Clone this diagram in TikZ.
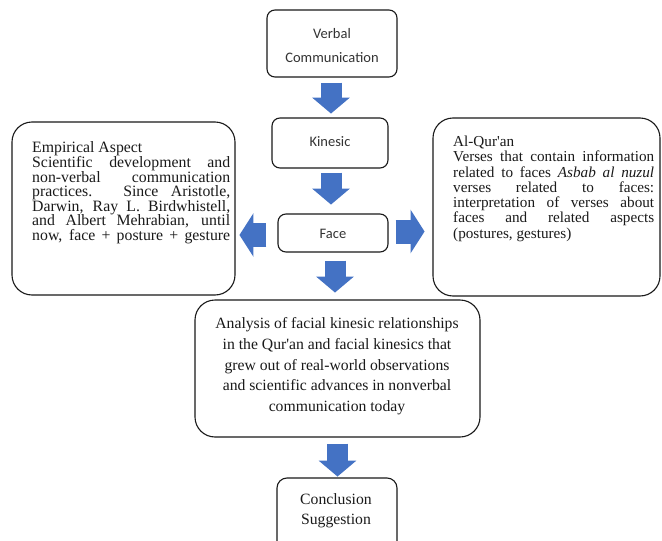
\documentclass[tikz,border=0pt]{standalone}
\usepackage{fontspec}
\setmainfont{Liberation Serif}
\newfontfamily\straightq{Liberation Serif}
\newfontfamily\calfont{Carlito}
\usetikzlibrary{arrows.meta,calc}
\definecolor{arrblue}{HTML}{4472C4}
\definecolor{boxline}{HTML}{1A1A1A}
\definecolor{sanstext}{HTML}{333333}
\definecolor{sertext}{HTML}{1A1A1A}
\newcommand{\sq}{{\straightq'}}
\tikzset{
  sbox/.style={draw=boxline, line width=1.1pt, rounded corners=8pt, inner sep=0pt},
  sbtext/.style={inner sep=0pt, align=center, text=sanstext, font=\calfont\fontsize{14.5}{24}\selectfont},
  bbox/.style={draw=boxline, line width=1.1pt, rounded corners=20pt, inner sep=0pt},
  stext/.style={inner sep=0pt, text=sertext, anchor=base west},
  varrow/.style={draw=arrblue, line width=21pt, -{Triangle[width=37pt,length=16pt,fill=arrblue,color=arrblue]}},
  harrow/.style={draw=arrblue, line width=24pt, -{Triangle[width=43pt,length=14pt,fill=arrblue,color=arrblue]}}
}
\begin{document}
\begin{tikzpicture}[x=1pt,y=-1pt]
\clip (0,0) rectangle (662,541);
\fill[white] (0,0) rectangle (662,541);
% column boxes
\node[sbox, minimum width=130pt, minimum height=67pt] (vc) at (332,43.5) {};
\node[sbtext] (vctext) at ($(vc.center)+(0,2)$) {Verbal\\Communication};
\node[sbox, minimum width=116pt, minimum height=50pt] (kin) at (330,143) {};
\node[sbtext] (kintext) at ($(kin.center)+(0,-1.5)$) {Kinesic};
\node[sbox, minimum width=110pt, minimum height=38pt] (face) at (333,233) {};
\node[sbtext] (facetext) at ($(face.center)+(0,1)$) {Face};
% side boxes
\node[bbox, minimum width=223pt, minimum height=173pt] (emp) at (123.5,208.5) {};
\node[stext] (emptext) at (32,152.4) {\parbox[t]{198pt}{\fontsize{15.8}{14.45}\selectfont
\makebox[198pt][l]{Empirical Aspect}\\
\makebox[198pt][s]{Scientific development and}\\
\makebox[198pt][s]{non-verbal communication}\\
\makebox[198pt][s]{practices. Since Aristotle,}\\
\makebox[198pt][s]{Darwin, Ray L. Birdwhistell,}\\
\makebox[198pt][s]{and Albert Mehrabian, until}\\
\makebox[198pt][s]{now, face + posture + gesture}}};
\node[bbox, minimum width=227pt, minimum height=178pt] (quran) at (546.5,207) {};
\node[stext] (qurantext) at (453,146.4) {\parbox[t]{201pt}{\fontsize{15.2}{15.3}\selectfont
\makebox[201pt][l]{Al-Qur\sq an}\\
\makebox[201pt][s]{Verses that contain information}\\
\makebox[201pt][s]{related to faces \textit{Asbab al nuzul}}\\
\makebox[201pt][s]{verses related to faces:}\\
\makebox[201pt][s]{interpretation of verses about}\\
\makebox[201pt][s]{faces and related aspects}\\
\makebox[201pt][l]{(postures, gestures)}}};
% analysis box
\node[bbox, minimum width=285pt, minimum height=137pt] (ana) at (337.5,368.5) {};
\node[inner sep=0pt, text=sertext, anchor=base] (anatext) at (337,328.6) {\parbox[t]{280pt}{\centering\fontsize{15.7}{20.75}\selectfont
Analysis of facial kinesic relationships\\
in the Qur\sq an and facial kinesics that\\
grew out of real-world observations\\
and scientific advances in nonverbal\\
communication today}};
% conclusion box
\node[draw=boxline, line width=1.1pt, rounded corners=10pt, minimum width=120pt, minimum height=82pt] (con) at (337,519) {};
\node[inner sep=0pt, text=sertext, anchor=base] (context) at (336,504) {\parbox[t]{110pt}{\centering\fontsize{15.7}{20}\selectfont
Conclusion\\Suggestion}};
% block arrows
\draw[varrow] ($(vc.south)+(-1,5)$) -- ($(vc.south)+(-1,36)$);
\draw[varrow] ($(kin.south)+(1,4)$) -- ($(kin.south)+(1,36)$);
\draw[varrow] ($(face.south)+(2,8)$) -- ($(face.south)+(2,40)$);
\draw[varrow] ($(ana.south)+(0,6)$) -- ($(ana.south)+(0,39)$);
\draw[harrow] ($(face.west)+(-11,2)$) -- ($(face.west)+(-38,2)$);
\draw[harrow] ($(face.east)+(7,-1.5)$) -- ($(face.east)+(36,-1.5)$);
\end{tikzpicture}
\end{document}
